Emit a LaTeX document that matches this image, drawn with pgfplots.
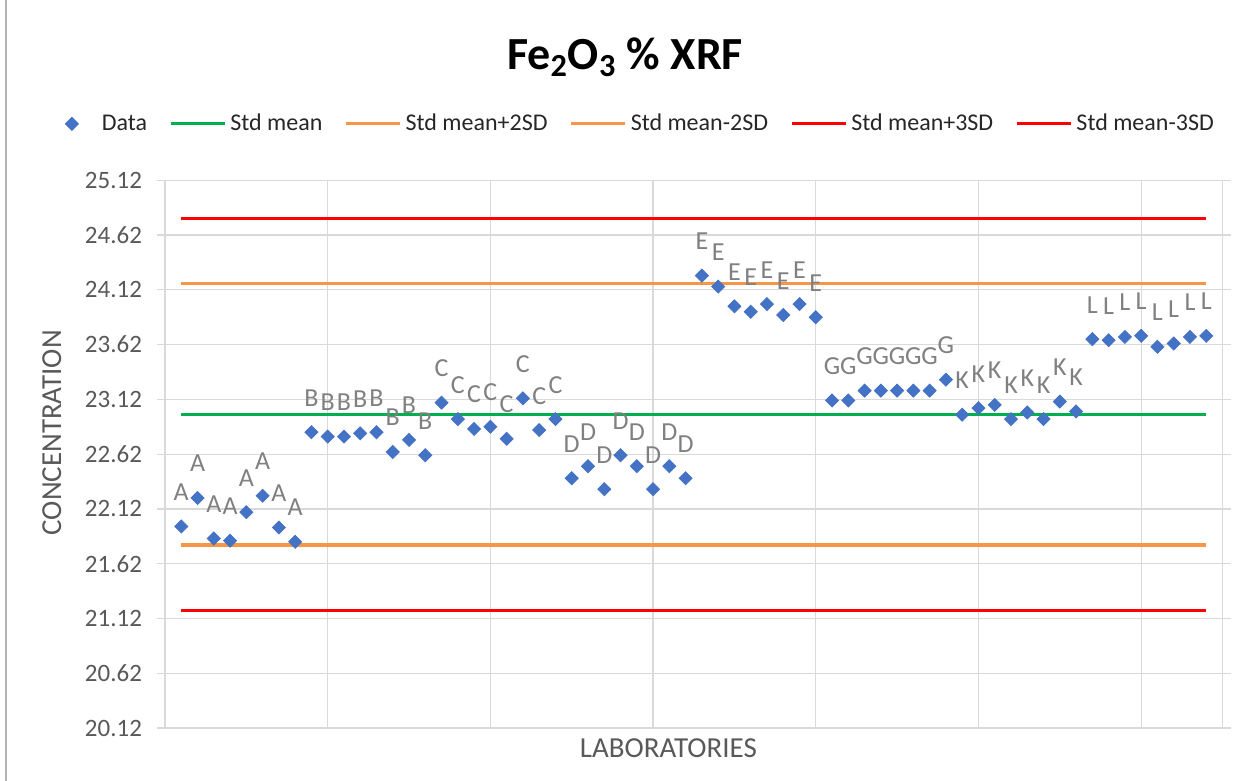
\documentclass[border=0pt]{standalone}
\usepackage{fontspec}
\setmainfont{Carlito}
\usepackage{pgfplots}
\usepackage{pgfplotstable}
\pgfplotsset{compat=1.18}
\definecolor{ptblue}{HTML}{4472C4}
\definecolor{mgreen}{HTML}{00B050}
\definecolor{sdorange}{HTML}{F79646}
\definecolor{sdred}{HTML}{FF0000}
\definecolor{txtgray}{HTML}{595959}
\definecolor{lblgray}{HTML}{808080}
\definecolor{gridgray}{HTML}{D9D9D9}

\pgfplotsset{sdline/.style={line width=1.6pt,
  legend image code/.code={\draw[##1] (0pt,0pt) -- (27pt,0pt);}},
  datamark/.style={legend image code/.code={\draw[##1] plot coordinates {(0pt,0pt)}; \path[draw=none,fill=none] (-4pt,0pt) -- (13pt,0pt);}}}

% lab results, x = sample position, lab = laboratory code
\pgfplotstableread{
x y lab
1 21.96 A
2 22.22 A
3 21.85 A
4 21.83 A
5 22.09 A
6 22.24 A
7 21.95 A
8 21.82 A
9 22.82 B
10 22.78 B
11 22.78 B
12 22.81 B
13 22.82 B
14 22.64 B
15 22.75 B
16 22.61 B
17 23.09 C
18 22.94 C
19 22.85 C
20 22.87 C
21 22.76 C
22 23.13 C
23 22.84 C
24 22.94 C
25 22.40 D
26 22.51 D
27 22.30 D
28 22.61 D
29 22.51 D
30 22.30 D
31 22.51 D
32 22.40 D
33 24.25 E
34 24.15 E
35 23.97 E
36 23.92 E
37 23.99 E
38 23.89 E
39 23.99 E
40 23.87 E
41 23.11 G
42 23.11 G
43 23.20 G
44 23.20 G
45 23.20 G
46 23.20 G
47 23.20 G
48 23.30 G
49 22.98 K
50 23.04 K
51 23.07 K
52 22.94 K
53 23.00 K
54 22.94 K
55 23.10 K
56 23.01 K
57 23.67 L
58 23.66 L
59 23.69 L
60 23.70 L
61 23.60 L
62 23.63 L
63 23.69 L
64 23.70 L
}\labdata

\begin{document}
\begin{tikzpicture}
\begin{axis}[
  name=ax, scale only axis, width=528.75pt, height=273.85pt,
  xmin=0, xmax=65, ymin=20.12, ymax=25.12,
  xtick={10,20,30,40,50,60}, xticklabels={},
  ytick={20.12,20.62,21.12,21.62,22.12,22.62,23.12,23.62,24.12,24.62,25.12},
  yticklabels={20.12,20.62,21.12,21.62,22.12,22.62,23.12,23.62,24.12,24.62,25.12},
  grid=major, major grid style={gridgray, line width=0.6pt},
  axis line style={gridgray, line width=0.6pt},
  xtick style={draw=none},
  ytick style={gridgray, line width=0.6pt}, tick align=outside, major tick length=4pt,
  yticklabel style={font=\fontsize{12.5}{14}\selectfont, text=txtgray, xshift=-4pt},
  /pgf/number format/assume math mode=true,
  ylabel={CONCENTRATION}, xlabel={LABORATORIES},
  label style={font=\fontsize{14.5}{16}\selectfont, text=txtgray},
  ylabel style={at={(axis description cs:-0.107,0.539)}, anchor=center},
  xlabel style={at={(axis description cs:0.476,-0.0365)}, anchor=center},
  title={\textbf{Fe\textsubscript{2}O\textsubscript{3} \% XRF}},
  title style={at={(axis description cs:0.435,1.203)}, anchor=center, font=\fontsize{23}{27}\selectfont},
  legend columns=-1,
  legend style={at={(axis description cs:0.45,1.103)}, anchor=center, draw=none, fill=none,
    font=\fontsize{12}{14}\selectfont, text=black!85,
    /tikz/every even column/.append style={column sep=9pt}},
  clip=false,
]
\addplot[only marks, mark=square*, mark size=2.3pt, color=ptblue,
  mark options={rotate=45}, datamark,
  point meta=explicit symbolic, nodes near coords,
  every node near coord/.append style={anchor=base, inner sep=0pt, yshift=13pt,
    font=\fontsize{13}{15}\selectfont, text=lblgray}]
  table[x=x, y=y, meta=lab] {\labdata};
\addlegendentry{Data}
\addplot[mgreen, sdline] coordinates {(1,22.98) (64,22.98)};
\addlegendentry{Std mean}
\addplot[sdorange, sdline] coordinates {(1,24.18) (64,24.18)};
\addlegendentry{Std mean+2SD}
\addplot[sdorange, sdline] coordinates {(1,21.79) (64,21.79)};
\addlegendentry{Std mean-2SD}
\addplot[sdred, sdline] coordinates {(1,24.77) (64,24.77)};
\addlegendentry{Std mean+3SD}
\addplot[sdred, sdline] coordinates {(1,21.19) (64,21.19)};
\addlegendentry{Std mean-3SD}
\end{axis}
\pgfresetboundingbox
\path[use as bounding box] ([xshift=-82.5pt,yshift=-26.5pt]ax.south west) rectangle ([xshift=9.75pt,yshift=90.15pt]ax.north east);
\draw[gray!60, line width=0.6pt] ([xshift=-79.5pt,yshift=-26.5pt]ax.south west) -- ([xshift=-79.5pt,yshift=90.15pt]ax.north west);
\end{tikzpicture}
\end{document}
